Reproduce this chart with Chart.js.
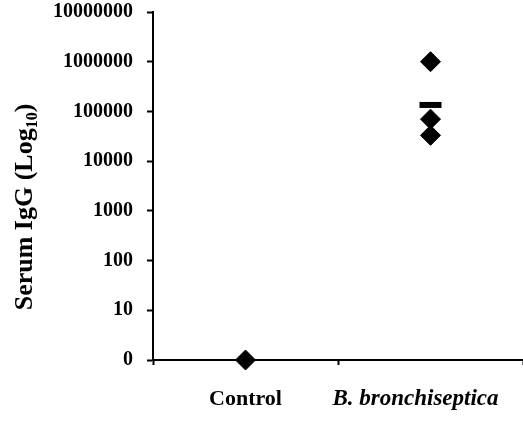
<!DOCTYPE html>
<html lang="en">
<head>
<meta charset="UTF-8">
<meta name="viewport" content="width=device-width, initial-scale=1.0">
<title>Serum IgG</title>
<script src="https://cdn.jsdelivr.net/npm/chart.js"></script>
<style>
    html, body {
        margin: 0;
        padding: 0;
        overflow: hidden;
        background-color: #ffffff;
    }
    #wrap {
        position: relative;
        width: 523px;
        height: 421px;
    }
</style>
</head>
<body>
<div id="wrap"><canvas id="iggChart"></canvas></div>

<script>
const groups = ['Control', 'B. bronchiseptica'];
// control titre sits on the "0" line, which is 1 on the log axis
const controlTitres = [1];
const bronchTitres = [1000000, 70000, 33000];
const bronchMean = [135000];
const yTicks = [1, 10, 100, 1000, 10000, 100000, 1000000, 10000000];
const yTickLabels = ['0', '10', '100', '1000', '10000', '100000', '1000000', '10000000'];

const SERIF = "'Liberation Serif', 'Times New Roman', serif";

function toPoints(group, values) {
    return values.map(v => ({ x: group, y: v }));
}

// axis title with subscript and the category labels
const textPlugin = {
    id: 'textPlugin',
    afterDraw(chart) {
        const ctx = chart.ctx;
        const xs = chart.scales.x;

        ctx.save();
        ctx.fillStyle = '#000';
        ctx.textBaseline = 'alphabetic';

        // category labels
        const labelY = 405;
        const shifts = [0, -15];
        const fonts = ['bold 22px ' + SERIF, 'italic bold 23px ' + SERIF];
        groups.forEach((g, i) => {
            ctx.font = fonts[i];
            ctx.textAlign = 'center';
            ctx.fillText(g, xs.getPixelForValue(i) + shifts[i], labelY);
        });

        // y title, rotated
        const main = 'Serum IgG (Log';
        const sub = '10';
        const end = ')';
        const bigFont = 'bold 26px ' + SERIF;
        const smallFont = 'bold 16px ' + SERIF;
        ctx.font = bigFont;
        const w1 = ctx.measureText(main).width;
        const w3 = ctx.measureText(end).width;
        ctx.font = smallFont;
        const w2 = ctx.measureText(sub).width;
        const total = w1 + w2 + w3;

        ctx.translate(32, 207);
        ctx.rotate(-Math.PI / 2);
        ctx.textAlign = 'left';
        let x = -total / 2;
        ctx.font = bigFont;
        ctx.fillText(main, x, 0);
        x += w1;
        ctx.font = smallFont;
        ctx.fillText(sub, x, 5);
        x += w2;
        ctx.font = bigFont;
        ctx.fillText(end, x, 0);
        ctx.restore();
    }
};

const diamond = {
    showLine: false,
    clip: false,
    pointStyle: 'rectRot',
    pointRadius: 10,
    pointHoverRadius: 10,
    pointBackgroundColor: '#000',
    pointBorderColor: '#000',
    pointBorderWidth: 1
};

new Chart(document.getElementById('iggChart'), {
    type: 'line',
    data: {
        labels: groups,
        datasets: [
            Object.assign({ label: 'Control', data: toPoints(groups[0], controlTitres) }, diamond),
            Object.assign({ label: 'B. bronchiseptica', data: toPoints(groups[1], bronchTitres) }, diamond),
            {
                label: 'Mean',
                data: toPoints(groups[1], bronchMean),
                showLine: false,
                clip: false,
                pointStyle: 'line',
                pointRadius: 11,
                pointHoverRadius: 11,
                pointBorderColor: '#000',
                pointBorderWidth: 6
            }
        ]
    },
    options: {
        responsive: true,
        maintainAspectRatio: false,
        animation: false,
        layout: {
            autoPadding: false,
            padding: 0
        },
        plugins: {
            legend: { display: false },
            tooltip: { enabled: false }
        },
        scales: {
            x: {
                type: 'category',
                offset: true,
                afterFit(scale) { scale.height = 61; },
                grid: {
                    offset: true,
                    drawOnChartArea: false,
                    drawTicks: true,
                    tickLength: 5,
                    tickWidth: 2,
                    tickColor: '#000'
                },
                border: { color: '#000', width: 2 },
                ticks: { display: false }
            },
            y: {
                type: 'logarithmic',
                min: 1,
                max: 10000000,
                afterFit(scale) {
                    scale.width = 153;
                    scale.paddingTop = 12;
                    scale.paddingBottom = 0;
                },
                afterBuildTicks(scale) {
                    scale.ticks = yTicks.map(v => ({ value: v }));
                },
                grid: {
                    drawOnChartArea: false,
                    drawTicks: true,
                    tickLength: 6,
                    tickWidth: 2,
                    tickColor: '#000'
                },
                border: { color: '#000', width: 2 },
                ticks: {
                    color: '#000',
                    padding: 14,
                    font: { family: SERIF, size: 20, weight: 'bold' },
                    callback: (value, index) => yTickLabels[index]
                }
            }
        }
    },
    plugins: [textPlugin]
});
</script>
</body>
</html>
